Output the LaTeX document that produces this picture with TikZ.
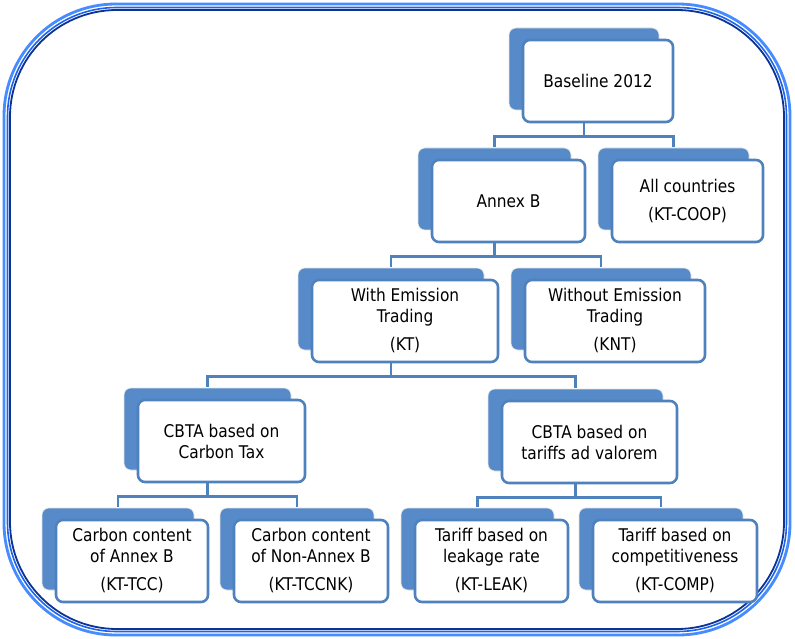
\documentclass[tikz,border=0pt]{standalone}
\usepackage{fontspec}
\setmainfont{DejaVu Sans}[FakeStretch=0.88]
\usepackage{tikz}
\usetikzlibrary{positioning,calc,shadows}

\definecolor{boxblue}{RGB}{79,129,189}
\definecolor{tabblue}{RGB}{86,138,200}
\definecolor{framelight}{RGB}{70,140,255}
\definecolor{framemid}{RGB}{30,100,230}
\definecolor{framedark}{RGB}{12,52,150}

\begin{document}
\begin{tikzpicture}[
    x=1pt, y=-1pt,
    box/.style={rectangle, rounded corners=7pt, draw=boxblue, line width=2.6pt, fill=white,
      minimum height=82pt, inner sep=2pt, align=center, text=black,
      font=\fontsize{17.5}{21}\selectfont,
      general shadow={fill=tabblue, draw=black!10, line width=0.6pt,
        shadow xshift=-14pt, shadow yshift=12pt}},
    link/.style={draw=boxblue, line width=2.8pt}
]
\useasboundingbox (0,0) rectangle (795,639);

% Outer frame
\draw[framelight, line width=2.8pt, rounded corners=112pt] (4,4) rectangle (790,635);
\draw[framemid, line width=1.6pt, rounded corners=109pt] (7.5,7.5) rectangle (786.5,631.5);
\draw[framedark, line width=1.8pt, rounded corners=107pt] (10,10) rectangle (784,629);

% Level 1
\node[box, minimum width=150pt] (base) at (598,81) {Baseline 2012};

% Level 2
\node[box, minimum width=153pt] (annex) at (508.5,201) {Annex B};
\node[box, minimum width=151pt] (allc) at (687.5,201) {All countries\\[7pt](KT-COOP)};

% Level 3
\node[box, minimum width=186pt] (kt) at (405,321) {With Emission\\Trading\\[7pt](KT)};
\node[box, minimum width=180pt] (knt) at (615,321) {Without Emission\\Trading\\[7pt](KNT)};

% Level 4
\node[box, minimum width=167pt] (ctax) at (221.5,441) {CBTA based on\\Carbon Tax};
\node[box, minimum width=175pt] (ctar) at (589.5,442) {CBTA based on\\tariffs ad valorem};

% Level 5
\node[box, minimum width=152pt] (tcc) at (132,561) {Carbon content\\of Annex B\\[7pt](KT-TCC)};
\node[box, minimum width=154pt] (tccnk) at (311,561) {Carbon content\\of Non-Annex B\\[7pt](KT-TCCNK)};
\node[box, minimum width=153pt] (leak) at (491.5,561) {Tariff based on\\leakage rate\\[7pt](KT-LEAK)};
\node[box, minimum width=164pt] (comp) at (675,561) {Tariff based on\\competitiveness\\[7pt](KT-COMP)};

% Connectors (elbow, bus halfway down)
\foreach \p/\c in {base/annex, base/allc, annex/kt, annex/knt, kt/ctax, kt/ctar,
                   ctax/tcc, ctax/tccnk, ctar/leak, ctar/comp}{
  \draw[link] ([xshift=-14pt]\p.south) -- ++(0,13) -| ([xshift=-14pt, yshift=12pt]\c.north);
}

\end{tikzpicture}
\end{document}
